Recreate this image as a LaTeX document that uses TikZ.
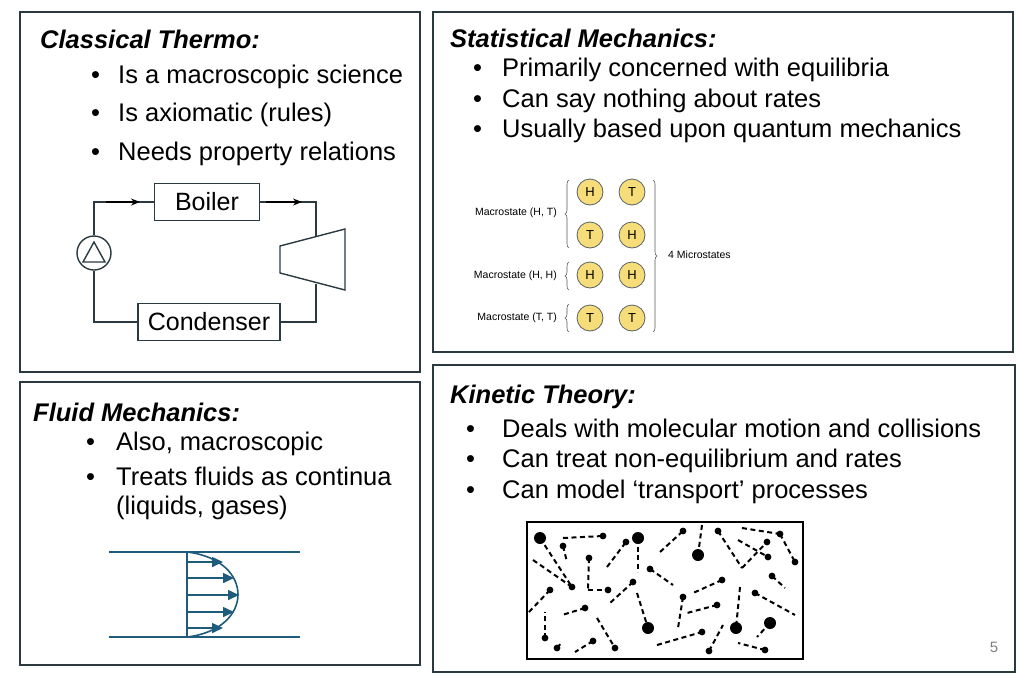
\documentclass[tikz,border=0pt]{standalone}
\usepackage{fontspec}
\setmainfont{Liberation Sans}
\usetikzlibrary{arrows.meta,decorations.pathreplacing}
\definecolor{panel}{HTML}{2B3A40}
\definecolor{coin}{HTML}{F7DC7A}
\definecolor{flow}{HTML}{1F5B7A}
\tikzset{
 panel/.style={draw=panel,line width=1.6pt},
 ttl/.style={anchor=west,font=\fontsize{25.5}{28}\selectfont\bfseries\itshape,inner sep=0},
 txt/.style={anchor=west,font=\fontsize{25.5}{28}\selectfont,inner sep=0},
 comp/.style={draw=panel,line width=1.4pt,font=\fontsize{25}{28}\selectfont,inner sep=0},
 pipe/.style={draw=panel,line width=1.4pt},
 cn/.style={circle,draw=panel!80,fill=coin,line width=0.8pt,minimum size=26pt,inner sep=0,font=\fontsize{13}{14}\selectfont},
 sm/.style={anchor=east,font=\fontsize{10.5}{12}\selectfont,inner sep=0},
 dl/.style={line width=2pt,dash pattern=on 5pt off 3.5pt},
 fl/.style={flow,line width=1.6pt},
}
\newcommand{\bul}[2]{\makebox[#1pt][l]{\textbullet}#2}
\begin{document}
\begin{tikzpicture}[x=1pt,y=-1pt]
\useasboundingbox (0,0) rectangle (1020,675);
% panels
\draw[panel] (20,12) rectangle (420,372);
\draw[panel] (433,12) rectangle (1013,352);
\draw[panel] (20,382) rectangle (420,665);
\draw[panel] (433,365) rectangle (1015,672);
% classical
\node[ttl] (t1) at (40,39) {Classical Thermo:};
\foreach \y/\s in {77/Is a macroscopic science,115/Is axiomatic (rules),154/Needs property relations}
 \node[txt] at (91,\y) {\bul{27}{\s}};
\node[comp,minimum width=105pt,minimum height=37pt] (boiler) at (207,202) {Boiler};
\node[comp,minimum width=142pt,minimum height=37pt] (cond) at (209,322) {Condenser};
\node[circle,draw=panel,line width=1.4pt,minimum size=34pt,inner sep=0] (pump) at (94,253) {};
\draw[pipe] (83,262) -- (94,242) -- (105,262) -- cycle;
\draw[pipe,draw=panel,line width=1.4pt] (280,246) -- (345,229) -- (345,290) -- (280,273) -- cycle;
\coordinate (tin) at (316,236);
\coordinate (tout) at (316,284);
\draw[pipe] (pump.north) |- (boiler.west);
\draw[pipe] (boiler.east) -| (tin);
\draw[pipe] (tout) |- (cond.east);
\draw[pipe] (cond.west) -| (pump.south);
\draw[black,line width=1.6pt,-{Stealth[length=9pt,width=7pt]}] (106,202) -- (140,202);
\draw[black,line width=1.6pt,-{Stealth[length=9pt,width=7pt]}] (266,202) -- (302,202);
% stat mech
\node[ttl] (t2) at (450,38) {Statistical Mechanics:};
\foreach \y/\s in {70/Primarily concerned with equilibria,101/Can say nothing about rates,131/Usually based upon quantum mechanics}
 \node[txt] at (473,\y) {\bul{29}{\s}};
\node[cn] (c11) at (590,192) {H}; \node[cn] (c12) at (632,192) {T};
\node[cn] (c21) at (590,235) {T}; \node[cn] (c22) at (632,235) {H};
\node[cn] (c31) at (590,275) {H}; \node[cn] (c32) at (632,275) {H};
\node[cn] (c41) at (590,318) {T}; \node[cn] (c42) at (632,318) {T};
\draw[gray!70!black,line width=0.6pt,decorate,decoration={brace,amplitude=4pt}] (569,248) -- (569,180);
\draw[gray!70!black,line width=0.6pt,decorate,decoration={brace,amplitude=4pt}] (569,290) -- (569,262);
\draw[gray!70!black,line width=0.6pt,decorate,decoration={brace,amplitude=4pt}] (569,332) -- (569,304);
\draw[gray!70!black,line width=0.6pt,decorate,decoration={brace,amplitude=4pt}] (653,180) -- (653,332);
\node[sm] at (557,213) {Macrostate (H, T)};
\node[sm] at (557,276) {Macrostate (H, H)};
\node[sm] at (557,318) {Macrostate (T, T)};
\node[sm,anchor=west] at (668,255) {4 Microstates};
% fluid
\node[ttl] (t3) at (33,412) {Fluid Mechanics:};
\node[txt] at (86,444) {\bul{30}{Also, macroscopic}};
\node[txt] at (86,476) {\bul{30}{Treats fluids as continua}};
\node[txt] at (116,508) {(liquids, gases)};
\draw[fl] (109,552) -- (300,552);
\draw[fl] (109,637) -- (300,637);
\draw[fl] (187,552) -- (187,637);
\draw[fl] (187,552) .. controls (255,560) and (255,629) .. (187,637);
\foreach \y/\l in {562/36,578/47,595/52,612/47,628/36}
 \draw[fl,-{Triangle[length=11pt,width=10pt]}] (187,\y) -- ++(\l,0);
% kinetic
\node[ttl] (t4) at (450,397) {Kinetic Theory:};
\foreach \y/\s in {428/Deals with molecular motion and collisions,461/Can treat non-equilibrium and rates,492/Can model `transport' processes}
 \node[txt] at (466,\y) {\bul{36}{\s}};
\node[anchor=center,font=\fontsize{15}{16}\selectfont,text=gray] at (994,647) {5};
\draw[black,line width=2.2pt] (527,522) rectangle (803,659);
\foreach \a/\b/\c/\d in {540/538/572/587, 563/538/603/536, 563/546/567/562, 533/560/572/587, 589/558/588/590, 588/590/608/590, 607/567/626/542, 638/538/638/572, 650/569/673/585, 660/552/683/531, 702/525/698/555, 718/531/742/568, 742/568/767/542, 742/528/780/534, 780/534/795/562, 738/540/768/557, 772/576/785/588, 722/580/693/593, 633/582/610/603, 550/590/528/613, 683/597/678/628, 717/605/687/613, 585/608/562/615, 597/618/615/648, 637/593/648/628, 545/638/545/612, 557/648/562/642, 593/641/575/652, 657/645/702/632, 740/587/736/628, 709/651/723/625, 770/623/757/637, 765/650/738/643, 755/593/795/615}
 \draw[dl] (\a,\b) -- (\c,\d);
\foreach \x/\y in {572/587,603/536,563/546,608/590,589/558,626/542,650/569,683/531,718/531,767/542,780/534,795/562,768/557,772/576,722/580,633/582,550/590,683/597,717/605,585/608,615/648,545/638,557/648,593/641,702/632,709/651,765/650,755/593}
 \fill (\x,\y) circle (3.4pt);
\foreach \x/\y in {540/538,638/538,698/555,648/628,736/628,770/623}
 \fill (\x,\y) circle (6pt);
\end{tikzpicture}
\end{document}
